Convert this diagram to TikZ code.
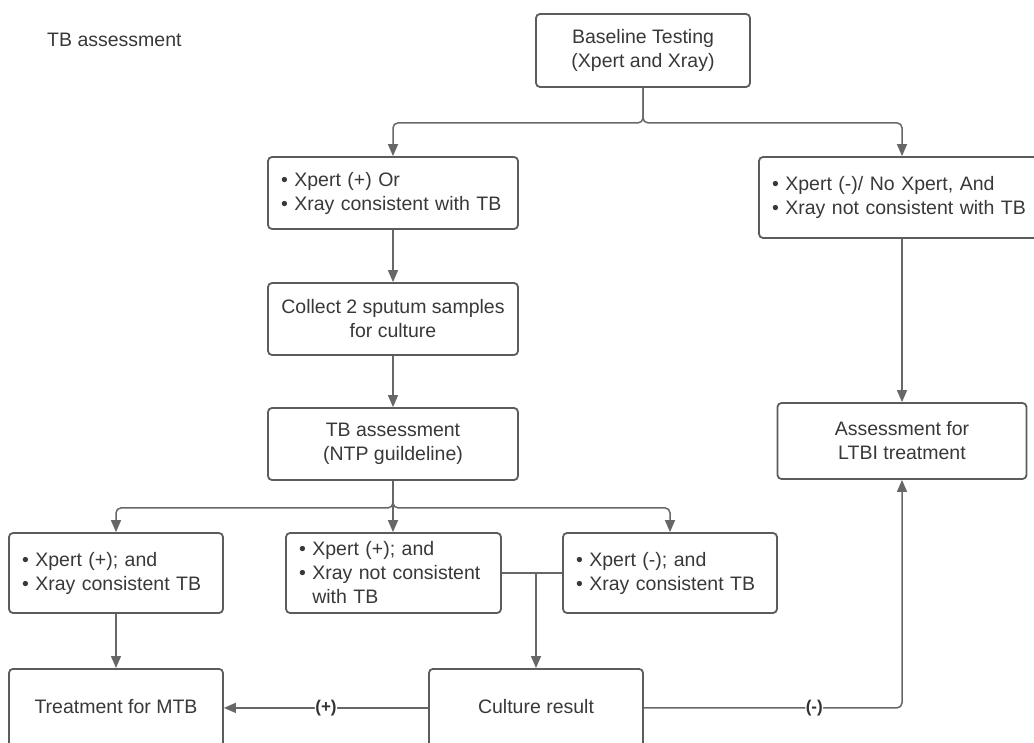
\documentclass[tikz,border=0pt]{standalone}
\usepackage{fontspec}
\setmainfont{Liberation Sans}
\usetikzlibrary{arrows.meta}
\definecolor{bordc}{HTML}{5C5C5C}
\definecolor{linec}{HTML}{676767}
\definecolor{txtc}{HTML}{383838}
\begin{document}
\begin{tikzpicture}[x=1pt,y=-1pt,
  every node/.style={text=txtc, font=\fontsize{19.5}{24}\selectfont},
  box/.style={draw=bordc, line width=1.8pt, rounded corners=4pt, inner xsep=13pt, inner ysep=0pt},
  cbox/.style={box, align=center},
  lbox/.style={box, align=left},
  conn/.style={draw=linec, line width=1.5pt, rounded corners=5pt, -{Triangle[length=12pt,width=10pt]}},
  plainline/.style={draw=linec, line width=1.5pt},
  lab/.style={fill=white, inner sep=0.5pt, text=txtc!90!black, font=\fontsize{17}{20}\selectfont\bfseries}
]
\useasboundingbox (0,0) rectangle (1034,743);

\node[anchor=base west, inner sep=0pt] (title) at (47,47) {TB assessment};

\node[cbox, minimum width=214pt, minimum height=73pt] (base) at (643,50.5) {Baseline Testing\\(Xpert and Xray)};
\node[lbox, text width=224pt, minimum height=72pt] (a1) at (393,193) {• Xpert (+) Or\\• Xray consistent with TB};
\node[lbox, text width=260pt, minimum height=81pt] (r1) at (902,197.5) {• Xpert (-)/ No Xpert, And\\• Xray not consistent with TB};
\node[cbox, minimum width=250pt, minimum height=72pt] (collect) at (393,319) {Collect 2 sputum samples\\for culture};
\node[cbox, minimum width=250pt, minimum height=72pt] (tba) at (393,444) {TB assessment\\(NTP guildeline)};
\node[cbox, minimum width=249pt, minimum height=76pt] (ltbi) at (902,441) {Assessment for\\LTBI treatment};

\node[lbox, text width=188pt, minimum height=80pt] (l2) at (116,573) {• Xpert (+); and\\• Xray consistent TB};
\node[lbox, text width=189pt, minimum height=80pt] (m2) at (393.5,573) {• Xpert (+); and\\• Xray not consistent\\\hphantom{• }with TB};
\node[lbox, text width=188pt, minimum height=80pt] (r2) at (670,573) {• Xpert (-); and\\• Xray consistent TB};

\node[box, anchor=north, minimum width=214pt, text height=45pt, text depth=60pt] (treat) at (116,668) {Treatment for MTB};
\node[box, anchor=north, minimum width=214pt, text height=45pt, text depth=60pt] (culture) at (536,668) {Culture result};

\draw[conn] (base.south) -- ++(0,35) -| (a1.north);
\draw[conn] (base.south) -- ++(0,35) -| (r1.north);
\draw[conn] (a1) -- (collect);
\draw[conn] (collect) -- (tba);
\draw[conn] (r1) -- (ltbi);

\draw[conn] (tba.south) -- ++(0,27) -| (l2.north);
\draw[conn] (tba.south) -- (tba.south |- m2.north);
\draw[conn] (tba.south) -- ++(0,27) -| (r2.north);

\draw[plainline] (m2.east) -- (r2.west);
\coordinate (j) at (536,573);
\draw[conn] (j) -- (culture.north);
\draw[conn] (l2) -- (treat);

\draw[conn] ([yshift=6pt]culture.base west) -- node[lab]{(+)} ([yshift=6pt]treat.base east);
\draw[conn] ([yshift=6pt]culture.base east) -| node[lab, pos=0.33]{(-)} (ltbi.south);
\end{tikzpicture}
\end{document}
